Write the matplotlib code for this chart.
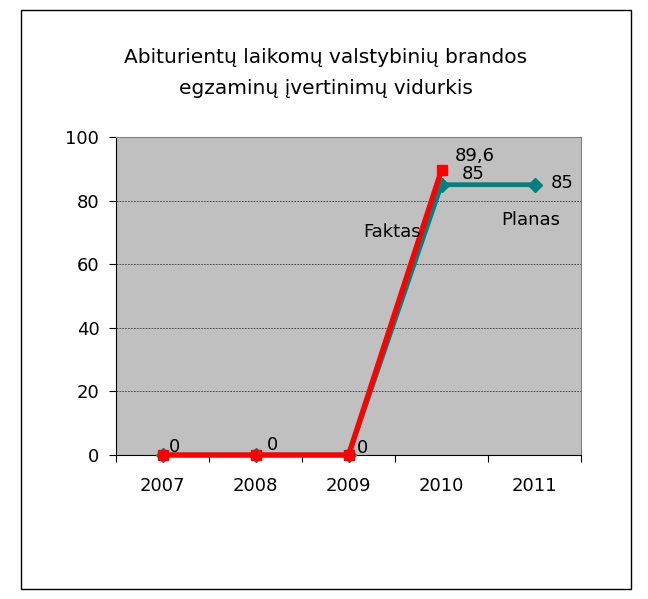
import matplotlib.pyplot as plt
from matplotlib.patches import Rectangle
from matplotlib.ticker import FixedLocator, NullFormatter

plt.rcParams['font.family'] = ['DejaVu Sans']

# data
years = ['2007', '2008', '2009', '2010', '2011']
planas = [0, 0, 0, 85, 85]
faktas = [0, 0, 0, 89.6]
planas_labels = ['', '', '', '85', '85']
faktas_labels = ['0', '0', '0', '89,6']

fig = plt.figure(figsize=(6.48, 5.99), dpi=100)
fig.patches.append(Rectangle((21 / 648, 1 - 589 / 599), 610 / 648, 579 / 599,
                             transform=fig.transFigure, fill=False,
                             edgecolor='black', linewidth=1))

ax = fig.add_axes([116 / 648, 1 - 455 / 599, 465 / 648, 318 / 599])
ax.set_facecolor('#C0C0C0')

x = list(range(len(years)))
ax.plot(x, planas, color='#008080', lw=3.4, marker='D', markersize=7.5,
        zorder=3, clip_on=False)
ax.plot(x[:len(faktas)], faktas, color='#FF0000', lw=3.8, marker='s',
        markersize=7.5, zorder=4, clip_on=False)

# point labels
offsets_f = [(9, 6), (12, 7), (10, 5), (24, 10)]
for i, (v, t) in enumerate(zip(faktas, faktas_labels)):
    ax.annotate(t, (i, v), xytext=offsets_f[i], textcoords='offset points',
                ha='center', va='center', fontsize=13, zorder=5)
offsets_p = {3: (23, 8), 4: (20, 1)}
for i, (v, t) in enumerate(zip(planas, planas_labels)):
    if t:
        ax.annotate(t, (i, v), xytext=offsets_p[i], textcoords='offset points',
                    ha='center', va='center', fontsize=13, zorder=5)

ax.text(2.47, 70, 'Faktas', ha='center', va='center', fontsize=13, zorder=5)
ax.text(3.96, 74, 'Planas', ha='center', va='center', fontsize=13, zorder=5)

ax.set_xlim(-0.5, 4.5)
ax.set_ylim(0, 100)
ax.set_yticks([0, 20, 40, 60, 80, 100])
ax.tick_params(axis='y', direction='out', length=5, labelsize=13, pad=7)
ax.yaxis.grid(True, color='#333333', linestyle=(0, (2, 1.5)), linewidth=0.6)
ax.set_axisbelow(True)

ax.xaxis.set_major_locator(FixedLocator([-0.5, 0.5, 1.5, 2.5, 3.5, 4.5]))
ax.xaxis.set_major_formatter(NullFormatter())
ax.xaxis.set_minor_locator(FixedLocator(x))
ax.set_xticklabels(years, minor=True)
ax.tick_params(axis='x', which='major', direction='out', length=5)
ax.tick_params(axis='x', which='minor', length=0, labelsize=13, pad=16)

for s in ['top', 'right']:
    ax.spines[s].set_color('#808080')

fig.text(326 / 648, 1 - 73 / 599,
         'Abiturientų laikomų valstybinių brandos\negzaminų įvertinimų vidurkis',
         ha='center', va='center', fontsize=14.5, linespacing=1.75)

fig.savefig('out.png', dpi=100)
